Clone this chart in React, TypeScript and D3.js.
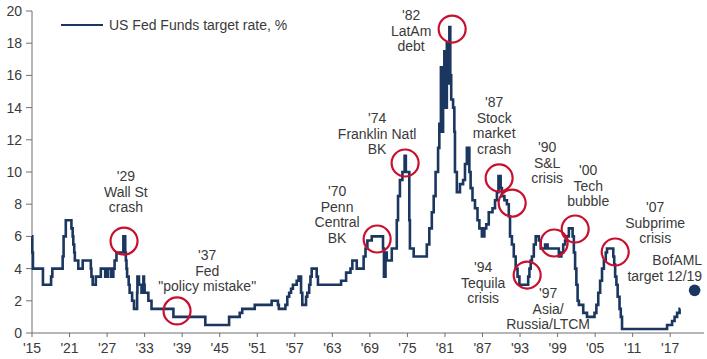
import React from "react";
import * as d3 from "d3";

// Fed funds / discount rate series: [year, rate %]
const rateYears: number[] = [
  1915.0, 1915.05, 1915.15, 1916.75, 1918.05, 1918.25, 1919.9, 1920.05, 1920.4,
  1921.3, 1921.5, 1921.6, 1921.75, 1921.85, 1922.4, 1923.1, 1924.4, 1924.5, 1924.7,
  1925.2, 1926.0, 1926.7, 1927.1, 1927.6, 1928.0, 1928.2, 1928.5,
  1929.6, 1929.9, 1930.0, 1930.1, 1930.2, 1930.45, 1930.6, 1931.0, 1931.3, 1931.8,
  1931.85, 1932.1, 1932.5, 1932.8, 1932.9, 1933.0, 1933.6, 1934.1, 1937.6, 1942.7,
  1946.5, 1948.2, 1948.6, 1950.6, 1953.3, 1954.3, 1954.45, 1955.5, 1955.8, 1956.1,
  1956.4, 1956.7, 1957.3, 1957.6, 1958.0, 1958.2, 1958.8, 1959.0, 1959.3, 1959.5,
  1959.7, 1960.5, 1960.7, 1964.4, 1965.2, 1965.9, 1966.2, 1966.9, 1968.0, 1968.3,
  1968.6, 1969.3, 1971.1, 1971.25, 1971.5, 1971.7, 1972.5, 1973.3, 1973.5, 1973.8,
  1974.2, 1974.55, 1974.75, 1975.3, 1975.4, 1976.0, 1978.1, 1978.5, 1978.9, 1979.2,
  1979.5, 1979.9, 1980.1, 1980.35, 1980.5, 1980.7, 1980.9, 1981.1, 1981.3, 1981.5,
  1981.7, 1981.85, 1982.0, 1982.3, 1982.5, 1982.6, 1982.9, 1983.4, 1983.9, 1984.2,
  1984.5, 1984.9, 1985.1, 1985.4, 1985.8, 1986.2, 1986.5, 1986.9, 1987.3, 1987.6,
  1988.0, 1988.6, 1989.0, 1989.3, 1989.55, 1989.9, 1990.1, 1990.5, 1990.9, 1991.2,
  1991.4, 1991.7, 1992.0, 1992.3, 1992.6, 1992.9, 1994.3, 1994.5, 1994.7, 1994.9,
  1995.2, 1995.5, 1996.0, 1996.3, 1997.0, 1997.4, 1999.2, 1999.6, 1999.9, 2000.2,
  2000.5, 2000.8, 2001.4, 2001.6, 2001.8, 2002.0, 2002.2, 2002.4, 2003.1, 2003.7,
  2004.9, 2005.2, 2005.5, 2005.8, 2006.1, 2006.4, 2006.7, 2006.9, 2007.9, 2008.05,
  2008.2, 2008.4, 2008.6, 2008.9, 2009.1, 2009.3, 2016.5, 2017.3, 2017.7, 2018.1,
  2018.5, 2018.6,
];
const rateValues: number[] = [
  6, 5, 4, 3, 3.5, 4, 4.75, 6, 7,
  6.5, 6, 5.5, 5, 4.5, 4, 4.5, 4, 3.5, 3,
  3.5, 4, 3.5, 4, 3.5, 4, 4.5, 5,
  6, 5, 4.5, 4, 3.5, 3, 2.5, 2, 1.5, 2.5,
  3.5, 3, 2.5, 3.5, 3, 2.5, 2, 1.5, 1, 0.5,
  1, 1.25, 1.5, 1.75, 2, 1.75, 1.5, 1.75, 2.25, 2.5,
  2.75, 3, 3.25, 3.5, 2.5, 1.75, 2.25, 2.5, 3, 3.5,
  4, 3.5, 3, 3.25, 3.75, 4, 4.5, 4, 4.75, 5.25,
  5.75, 6, 5.25, 3.5, 5, 4.5, 5.25, 7, 8.5, 9.5,
  10, 11, 10, 7, 5.25, 4.75, 5.5, 6.5, 7.5, 8.5,
  10, 11.5, 13, 16.5, 12.5, 15, 17.5, 14, 18, 15.5,
  19, 16, 14.5, 14, 12.5, 10, 8.75, 9.25, 9.5, 10.5,
  11.5, 10, 9, 8.25, 7.75, 7, 6.5, 6, 6.5, 6.75,
  7.5, 7.75, 8.25, 8.75, 9.75, 9, 8.5, 8.25, 8, 7.25,
  6, 5.5, 4.75, 4, 3.5, 3, 3.5, 4, 4.5, 4.75,
  5.5, 6, 5.75, 5.25, 5.5, 5.25, 4.75, 5, 5.5, 5.75,
  6, 6.5, 6, 5, 4, 3, 2, 1.75, 1.25, 1,
  1.25, 1.75, 2.5, 3.25, 4, 4.5, 5, 5.25, 4.75, 4.25,
  3.5, 3, 2.25, 1.5, 1, 0.25, 0.5, 0.75, 1, 1.25,
  1.5, 1.5,
];

const xTickYears: number[] = [1915, 1921, 1927, 1933, 1939, 1945, 1951, 1957, 1963, 1969, 1975, 1981, 1987, 1993, 1999, 2005, 2011, 2017];
const yTickValues: number[] = [0, 2, 4, 6, 8, 10, 12, 14, 16, 18, 20];

const targetYear = 2020.9;
const targetValue = 2.65;

const seriesName = "US Fed Funds target rate, %";

// Event annotations: label lines anchored at (year, value of first baseline)
const eventLabels: string[][] = [
  ["'29", "Wall St", "crash"],
  ["'37", "Fed", "\"policy mistake\""],
  ["'70", "Penn", "Central", "BK"],
  ["'74", "Franklin Natl", "BK"],
  ["'82", "LatAm", "debt"],
  ["'87", "Stock", "market", "crash"],
  ["'90", "S&L", "crisis"],
  ["'00", "Tech", "bubble"],
  ["'94", "Tequila", "crisis"],
  ["'97", "Asia/", "Russia/LTCM"],
  ["'07", "Subprime", "crisis"],
  ["BofAML", "target 12/19"],
];
const eventLabelYears: number[] = [1930.0, 1943.0, 1963.76, 1970.16, 1975.59, 1988.86, 1997.33, 2003.89, 1987.1, 1997.49, 2014.6, 2022.1];
const eventLabelValues: number[] = [9.44, 4.53, 8.51, 13.04, 19.44, 14.04, 11.24, 9.81, 3.79, 2.17, 7.52, 4.22];
const eventLabelAnchors: string[] = ["middle", "middle", "middle", "middle", "middle", "middle", "middle", "middle", "middle", "middle", "middle", "end"];

// Red circles marking the events
const circleYears: number[] = [1929.71, 1938.18, 1970.16, 1974.63, 1982.15, 1989.66, 1991.74, 1994.14, 1998.45, 2001.81, 2008.21];
const circleValues: number[] = [5.71, 1.37, 5.84, 10.56, 18.88, 9.63, 8.07, 3.6, 5.59, 6.46, 5.03];

export default function App() {
  const W = 707;
  const H = 359;
  const x = d3.scaleLinear().domain([1915, 2022.4]).range([32, 704]);
  const y = d3.scaleLinear().domain([0, 20]).range([333, 11]);

  const data = rateYears.map((yr, i) => ({ yr, v: rateValues[i] }));
  const line = d3
    .line<{ yr: number; v: number }>()
    .x((d) => x(d.yr))
    .y((d) => y(d.v))
    .curve(d3.curveStepAfter);

  const navy = "#1B365F";
  const textColor = "#3a3a3a";
  const axisColor = "#6f6f6f";
  const font = "'Liberation Sans', Arial, sans-serif";
  const lineGap = 15.6;

  return (
    <svg
      width={W}
      height={H}
      style={{ position: "absolute", left: 0, top: 0, background: "#fff" }}
      fontFamily={font}
    >
      <rect x={0} y={0} width={W} height={H} fill="#fff" />
      {/* y axis */}
      <line x1={x(1915)} x2={x(1915)} y1={y(20)} y2={y(0)} stroke={axisColor} strokeWidth={1} />
      {yTickValues.map((v) => (
        <g key={"yt" + v}>
          <line x1={x(1915) - 6} x2={x(1915)} y1={y(v)} y2={y(v)} stroke={axisColor} strokeWidth={1} />
          <text x={x(1915) - 10} y={y(v) + 5} textAnchor="end" fontSize={14} fill={textColor}>
            {v}
          </text>
        </g>
      ))}
      {/* x axis */}
      <line x1={x(1915)} x2={x(2022.4)} y1={y(0)} y2={y(0)} stroke={axisColor} strokeWidth={1} />
      {xTickYears.map((yr) => (
        <g key={"xt" + yr}>
          <line x1={x(yr)} x2={x(yr)} y1={y(0)} y2={y(0) + 4} stroke={axisColor} strokeWidth={1} />
          <text x={x(yr)} y={y(0) + 20} textAnchor="middle" fontSize={14} fill={textColor}>
            {"'" + String(yr).slice(2)}
          </text>
        </g>
      ))}

      {/* series */}
      <path d={line(data) || ""} fill="none" stroke={navy} strokeWidth={2.6} strokeLinejoin="miter" />
      <circle cx={x(targetYear)} cy={y(targetValue)} r={5.8} fill={navy} />

      {/* event circles */}
      {circleYears.map((yr, i) => (
        <circle
          key={"c" + i}
          cx={x(yr)}
          cy={y(circleValues[i])}
          r={13.5}
          fill="none"
          stroke="#C8102E"
          strokeWidth={2.2}
        />
      ))}

      {/* event labels */}
      {eventLabels.map((lines, i) => (
        <text
          key={"l" + i}
          x={x(eventLabelYears[i])}
          y={y(eventLabelValues[i])}
          textAnchor={eventLabelAnchors[i]}
          fontSize={14}
          fill={textColor}
        >
          {lines.map((t, j) => (
            <tspan key={j} x={x(eventLabelYears[i])} dy={j === 0 ? 0 : lineGap}>
              {t}
            </tspan>
          ))}
        </text>
      ))}

      {/* legend */}
      <line x1={61} x2={103} y1={25} y2={25} stroke={navy} strokeWidth={2.2} />
      <text x={109} y={30} fontSize={14} fill={textColor}>
        {seriesName}
      </text>
    </svg>
  );
}
